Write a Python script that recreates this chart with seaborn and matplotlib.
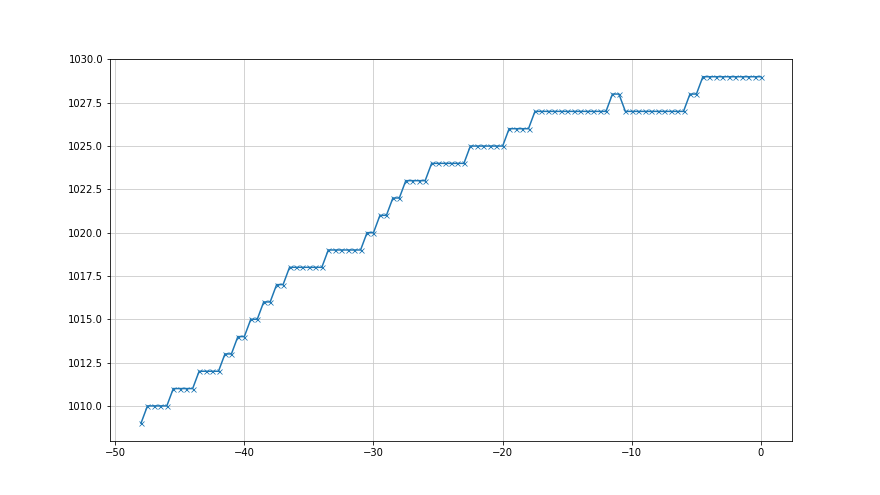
import numpy as np
import matplotlib
matplotlib.use('Agg')
import matplotlib.pyplot as plt
import seaborn as sns

# hours before now, half-hour steps
hours = np.arange(-48, 0.5, 0.5)

# pressure readings (hPa)
pressure = [
    1009,
    1010, 1010, 1010, 1010,
    1011, 1011, 1011, 1011,
    1012, 1012, 1012, 1012,
    1013, 1013, 1014, 1014, 1015, 1015, 1016, 1016, 1017, 1017,
    1018, 1018, 1018, 1018, 1018, 1018,
    1019, 1019, 1019, 1019, 1019, 1019,
    1020, 1020, 1021, 1021, 1022, 1022,
    1023, 1023, 1023, 1023,
    1024, 1024, 1024, 1024, 1024, 1024,
    1025, 1025, 1025, 1025, 1025, 1025,
    1026, 1026, 1026, 1026,
    1027, 1027, 1027, 1027, 1027, 1027, 1027, 1027, 1027, 1027, 1027, 1027,
    1028, 1028,
    1027, 1027, 1027, 1027, 1027, 1027, 1027, 1027, 1027, 1027,
    1028, 1028,
    1029, 1029, 1029, 1029, 1029, 1029, 1029, 1029, 1029, 1029,
]

fig, ax = plt.subplots(figsize=(880 / 72, 495 / 72), dpi=72)
sns.lineplot(x=hours, y=pressure, marker='x', color='C0', markersize=5,
             markeredgecolor='C0', markeredgewidth=0.8, ax=ax)
ax.grid(True, color='#c8c8c8')

plt.savefig('out.png', dpi=72)
